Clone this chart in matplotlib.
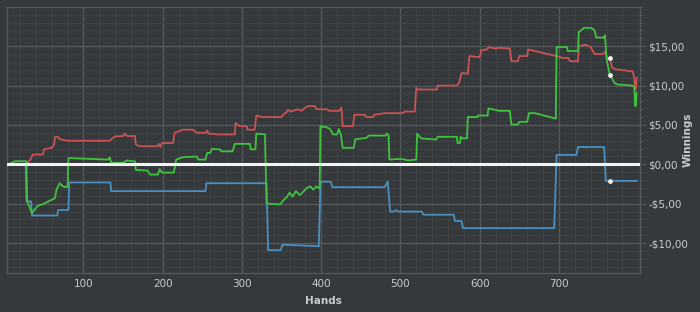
import matplotlib
matplotlib.use("Agg")
import matplotlib.pyplot as plt
from matplotlib.ticker import MultipleLocator, FuncFormatter

# ---- data (hands, winnings $) ----
blue_hands = [5, 27, 28, 34, 35, 67, 68, 81, 82, 134, 135, 254, 255, 331, 333, 349, 351, 375, 397, 399,
              412, 414, 480, 484, 487, 492, 494, 497, 527, 529, 567, 569, 577, 579, 694, 697, 722, 724,
              757, 759, 798]
blue_vals = [0, 0, -4.7, -4.7, -6.5, -6.5, -5.8, -5.8, -2.3, -2.3, -3.4, -3.4, -2.4, -2.4, -10.9, -10.9,
             -10.2, -10.3, -10.4, -2.2, -2.2, -2.9, -2.9, -2.2, -6.0, -6.0, -5.8, -6.0, -6.0, -6.4, -6.4,
             -7.2, -7.2, -8.1, -8.1, 1.2, 1.2, 2.2, 2.2, -2.1, -2.1]

green_hands = [5, 14, 28, 29, 35, 38, 42, 50, 60, 64, 66, 70, 74, 80, 81, 131, 133, 135, 150, 155, 161,
               165, 166, 181, 184, 194, 196, 199, 214, 217, 225, 243, 245, 254, 256, 260, 262, 272, 274,
               288, 291, 310, 311, 317, 318, 329, 331, 334, 348, 352, 357, 360, 364, 368, 373, 378, 382,
               386, 390, 394, 398, 399, 407, 411, 415, 420, 422, 425, 427, 441, 443, 457, 460, 481, 483,
               485, 486, 500, 510, 520, 521, 526, 545, 547, 571, 572, 575, 576, 578, 584, 585, 597, 598,
               610, 611, 625, 638, 640, 648, 650, 660, 662, 670, 696, 697, 710, 711, 724, 725, 732, 741,
               745, 747, 757, 758, 760, 764, 767, 770, 773, 793, 795, 796, 797, 798]
green_vals = [0, 0.4, 0.4, -4.7, -6.2, -5.8, -5.3, -5.0, -4.5, -4.3, -3.2, -2.4, -2.8, -2.9, 0.8, 0.6,
              0.9, 0.2, 0.2, 0.5, 0.4, 0.4, -0.7, -0.8, -1.3, -1.3, -0.6, -1.05, -1.05, 0.6, 0.9, 1.0,
              0.6, 0.6, 1.45, 1.45, 1.95, 1.9, 1.65, 1.65, 2.6, 2.6, 1.9, 1.9, 3.9, 3.8, -4.9, -5.0,
              -5.1, -4.6, -4.1, -3.6, -4.1, -3.4, -3.9, -3.4, -3.0, -2.8, -3.2, -2.8, -3.1, 4.85, 4.7,
              4.5, 3.8, 3.8, 4.5, 3.7, 2.1, 2.1, 3.2, 3.35, 3.65, 3.65, 3.9, 3.65, 0.6, 0.7, 0.5, 0.6,
              3.9, 3.3, 3.15, 3.5, 3.5, 2.7, 2.7, 3.5, 3.3, 3.3, 6.0, 6.0, 6.2, 6.2, 7.1, 6.8, 6.8,
              5.05, 5.05, 5.4, 5.4, 6.5, 6.5, 5.8, 14.9, 14.9, 14.4, 14.4, 16.8, 17.35, 17.3, 17.0,
              16.1, 16.1, 16.4, 13.4, 11.4, 10.9, 10.35, 10.15, 10.0, 9.8, 7.4, 7.4, 9.1]

red_hands = [5, 29, 30, 33, 36, 49, 50, 60, 63, 64, 68, 70, 80, 133, 137, 140, 150, 152, 155, 165, 166,
             171, 193, 195, 197, 199, 213, 215, 225, 238, 243, 255, 256, 258, 270, 291, 292, 297, 306,
             307, 316, 318, 326, 350, 352, 356, 358, 362, 370, 375, 380, 383, 392, 394, 407, 410, 423,
             425, 426, 427, 440, 442, 455, 457, 465, 467, 480, 503, 505, 518, 520, 522, 546, 547, 571,
             574, 577, 585, 587, 600, 602, 609, 612, 620, 625, 638, 640, 648, 650, 660, 661, 697, 705,
             712, 714, 724, 725, 733, 740, 745, 755, 758, 762, 764, 767, 773, 793, 795, 796, 797, 798]
red_vals = [0, 0, 0.3, 0.6, 1.25, 1.25, 1.9, 2.1, 2.5, 3.45, 3.5, 3.2, 3.0, 3.0, 3.35, 3.55, 3.6, 3.9,
            3.6, 3.6, 2.5, 2.3, 2.3, 2.6, 2.2, 2.7, 2.7, 4.0, 4.4, 4.4, 4.0, 4.0, 4.3, 3.9, 3.8, 3.8,
            5.25, 4.85, 4.85, 4.4, 4.4, 6.2, 6.0, 6.0, 6.3, 6.6, 6.9, 6.7, 7.0, 6.8, 7.2, 7.4, 7.4,
            7.0, 7.0, 6.8, 6.8, 7.2, 6.8, 4.85, 4.85, 6.3, 6.3, 6.0, 6.0, 6.3, 6.5, 6.5, 6.7, 6.7,
            9.7, 9.5, 9.5, 10.0, 10.0, 10.35, 11.6, 11.5, 13.75, 13.6, 14.5, 14.6, 14.9, 14.7, 14.8,
            14.7, 13.1, 13.1, 13.75, 13.75, 14.6, 13.75, 13.5, 13.5, 13.1, 13.1, 15.0, 15.2, 14.9,
            14.0, 14.0, 14.3, 13.3, 13.5, 12.25, 12.05, 11.8, 11.0, 9.5, 9.5, 11.0]

marker_hand = 764
marker_vals = [13.5, 11.4, -2.1]

y_ticks = [-10, -5, 0, 5, 10, 15]
x_ticks = [100, 200, 300, 400, 500, 600, 700]

BG = "#36393b"
TXT = "#c9cbcc"

fig = plt.figure(figsize=(7.0, 3.12), dpi=100, facecolor=BG)
ax = fig.add_axes([0.010, 0.125, 0.904, 0.853])
ax.set_facecolor(BG)

ax.set_xlim(3.5, 802)
ax.set_ylim(-13.8, 20.0)

ax.xaxis.set_major_locator(plt.FixedLocator(x_ticks))
ax.xaxis.set_minor_locator(MultipleLocator(20))
ax.yaxis.set_major_locator(plt.FixedLocator(y_ticks))
ax.yaxis.set_minor_locator(MultipleLocator(1))

ax.grid(which="major", color="#575a5d", linewidth=0.9)
ax.grid(which="minor", color="#404346", linewidth=0.6)
ax.set_axisbelow(True)

ax.yaxis.tick_right()


def money(v, pos):
    s = "-" if v < 0 else ""
    return f"{s}${abs(v):.2f}".replace(".", ",")


ax.yaxis.set_major_formatter(FuncFormatter(money))
ax.tick_params(axis="both", which="both", colors="#575a5d", labelcolor=TXT, labelsize=7.5)
ax.tick_params(axis="y", which="major", length=4, pad=2)
ax.tick_params(axis="y", which="minor", length=2)
ax.tick_params(axis="x", which="major", length=0, pad=4)
ax.tick_params(axis="x", which="minor", length=0)

for sp in ax.spines.values():
    sp.set_color("#575a5d")
    sp.set_linewidth(0.9)

ax.plot(blue_hands, blue_vals, color="#4a8fc0", linewidth=1.3, zorder=3)
ax.plot(red_hands, red_vals, color="#c95353", linewidth=1.3, zorder=4)
ax.plot(green_hands, green_vals, color="#3fc23f", linewidth=1.3, zorder=5)
ax.axhline(0, color="#f2f2f2", linewidth=2.2, zorder=6)
ax.scatter([marker_hand] * len(marker_vals), marker_vals, s=6, color="#f0f0f0", zorder=7)

fig.text(323 / 700, 1 - 301 / 312, "Hands", color=TXT, fontsize=7.5, fontweight="bold",
         ha="center", va="center")
fig.text(688 / 700, 1 - 140 / 312, "Winnings", color=TXT, fontsize=7.5, fontweight="bold",
         ha="center", va="center", rotation=90)

fig.savefig("out.png", dpi=100, facecolor=BG)
